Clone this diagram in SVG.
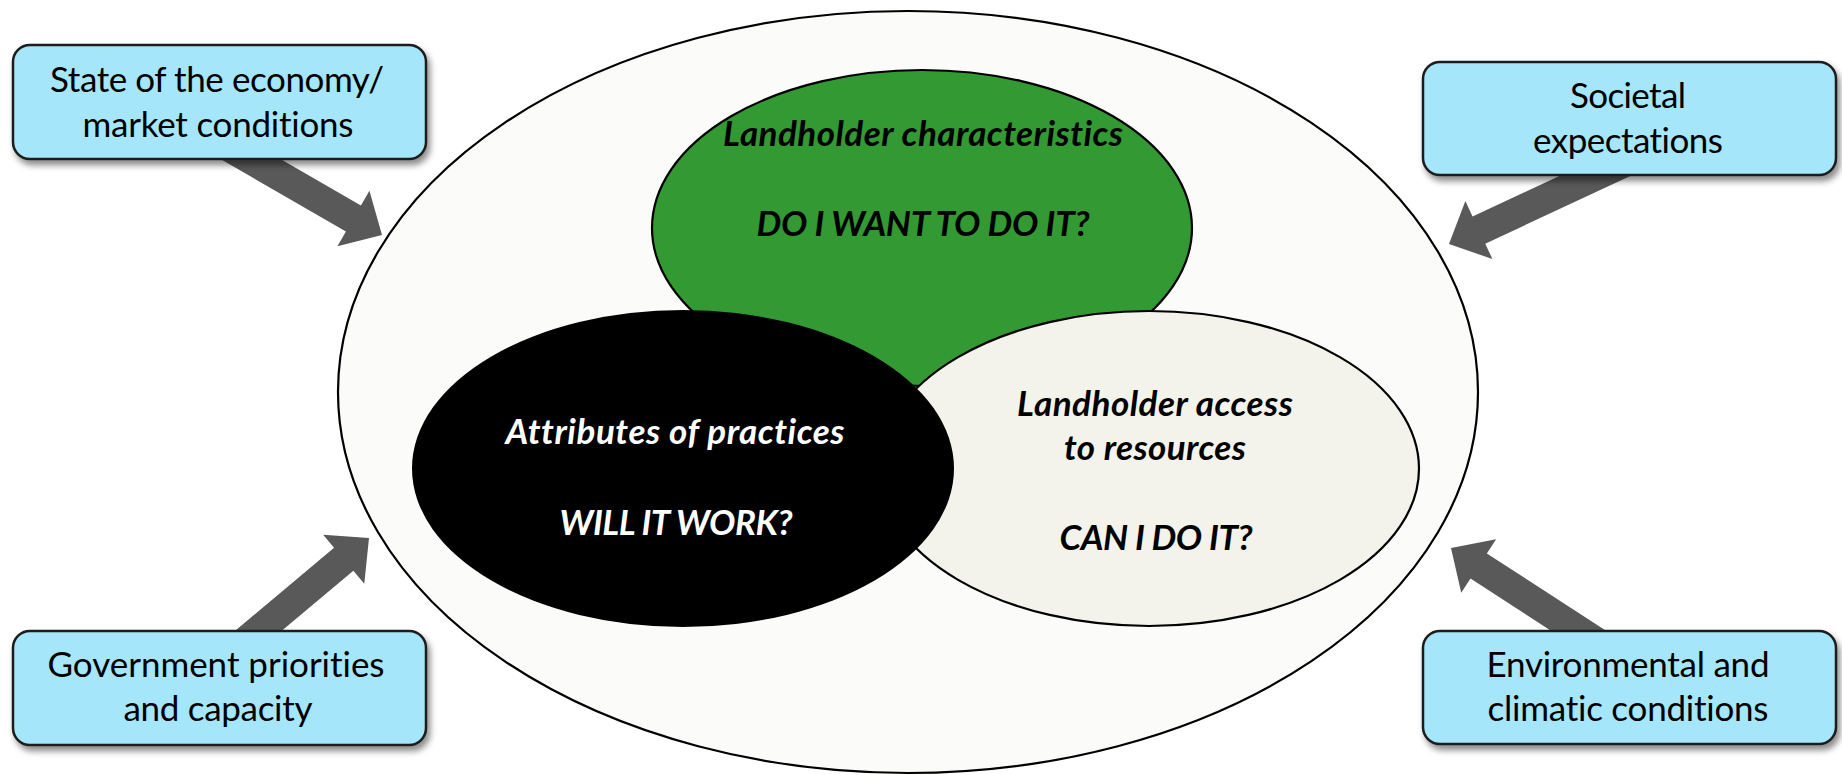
<svg xmlns="http://www.w3.org/2000/svg" width="1842" height="775" viewBox="0 0 1842 775">
  <defs>
    <filter id="shadow" x="-10%" y="-20%" width="125%" height="150%">
      <feDropShadow dx="3" dy="5" stdDeviation="3" flood-color="#000" flood-opacity="0.45"/>
    </filter>
  </defs>
  <style>
    .box { fill: #A5E6FA; stroke: #1E1E1E; stroke-width: 2.5; filter: url(#shadow); }
    .boxtext { font-family: Lato, "Open Sans", "Liberation Sans", sans-serif; font-size: 35px; fill: #000; text-anchor: middle; font-variant-ligatures: none; font-feature-settings: "liga" 0, "dlig" 0; }
    .ell { stroke: #000; stroke-width: 2.2; }
    .itext { font-family: Lato, "Open Sans", "Liberation Sans", sans-serif; font-size: 35px; font-weight: bold; font-style: italic; text-anchor: middle; font-variant-ligatures: none; font-feature-settings: "liga" 0, "dlig" 0; }
    .arrow { fill: #595959; }
  </style>
  <rect width="1842" height="775" fill="#FFFFFF"/>

  <g id="outer-context">
    <ellipse class="ell" cx="908" cy="392" rx="570" ry="381" fill="#FBFBF9"/>
  </g>

  <g id="connectors">
    <g transform="translate(382,235) rotate(30)"><path class="arrow" d="M0,0 L-33,-32 L-33,-15 L-190,-15 L-190,15 L-33,15 L-33,32 Z"/></g>
    <g transform="translate(1449,244) rotate(155)"><path class="arrow" d="M0,0 L-33,-32 L-33,-15 L-215,-15 L-215,15 L-33,15 L-33,32 Z"/></g>
    <g transform="translate(369,538) rotate(-40)"><path class="arrow" d="M0,0 L-33,-32 L-33,-15 L-185,-15 L-185,15 L-33,15 L-33,32 Z"/></g>
    <g transform="translate(1451,548) rotate(-147)"><path class="arrow" d="M0,0 L-33,-32 L-33,-15 L-200,-15 L-200,15 L-33,15 L-33,32 Z"/></g>
  </g>

  <g id="box-economy">
    <rect class="box" x="13" y="45" width="413" height="114" rx="17"/>
    <text class="boxtext" x="217" y="92" textLength="334">State of the economy/</text>
    <text class="boxtext" x="218" y="137" textLength="271">market conditions</text>
  </g>

  <g id="box-societal">
    <rect class="box" x="1423" y="62" width="413" height="113" rx="17"/>
    <text class="boxtext" x="1628" y="108" textLength="116">Societal</text>
    <text class="boxtext" x="1628" y="153" textLength="190">expectations</text>
  </g>

  <g id="box-government">
    <rect class="box" x="13" y="631" width="413" height="114" rx="17"/>
    <text class="boxtext" x="216" y="677" textLength="337">Government priorities</text>
    <text class="boxtext" x="218" y="721" textLength="189">and capacity</text>
  </g>

  <g id="box-environment">
    <rect class="box" x="1423" y="631" width="413" height="113" rx="17"/>
    <text class="boxtext" x="1628" y="677" textLength="283">Environmental and</text>
    <text class="boxtext" x="1628" y="721" textLength="281">climatic conditions</text>
  </g>

  <g id="node-characteristics">
    <ellipse class="ell" cx="922" cy="228" rx="270" ry="158" fill="#339933"/>
    <text class="itext" x="923" y="146" textLength="400" fill="#000">Landholder characteristics</text>
    <text class="itext" x="923" y="236" textLength="333" fill="#000">DO I WANT TO DO IT?</text>
  </g>

  <g id="node-resources">
    <ellipse class="ell" cx="1149" cy="468.5" rx="270" ry="157.5" fill="#F3F3EC"/>
    <text class="itext" x="1155" y="416" textLength="276" fill="#000">Landholder access</text>
    <text class="itext" x="1155" y="460" textLength="182" fill="#000">to resources</text>
    <text class="itext" x="1156" y="550" textLength="193" fill="#000">CAN I DO IT?</text>
  </g>

  <g id="node-attributes">
    <ellipse cx="683" cy="468.5" rx="271" ry="158.5" fill="#000000"/>
    <text class="itext" x="675" y="444" textLength="339" fill="#FFFFFF">Attributes of practices</text>
    <text class="itext" x="676" y="535" textLength="233" fill="#FFFFFF">WILL IT WORK?</text>
  </g>
</svg>
